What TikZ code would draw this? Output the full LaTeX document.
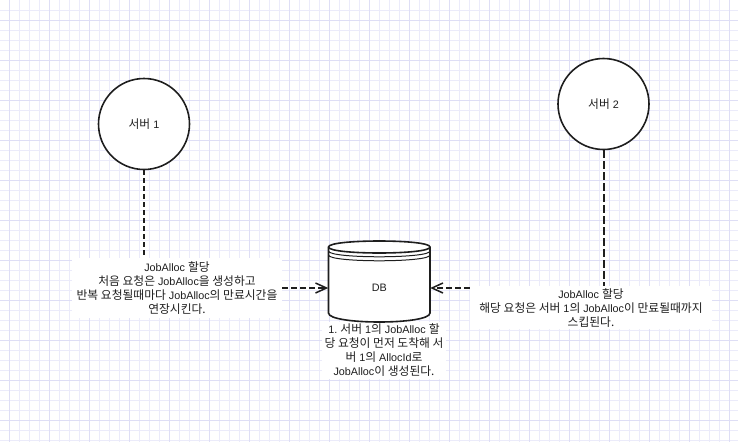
\documentclass[tikz,border=0pt]{standalone}
\usepackage{fontspec}
\setmainfont{Liberation Sans}
\newfontfamily\kr{Noto Sans CJK KR}[Scale=1.09]
\usetikzlibrary{arrows.meta,calc}
\newcommand\K[1]{{\kr #1}}
\definecolor{gridminor}{HTML}{EBEBFA}
\definecolor{gridmajor}{HTML}{DEDEF5}
\definecolor{ink}{HTML}{1E1E1E}
\frenchspacing
\tikzset{
  server/.style={circle, draw=ink, line width=1.6pt, minimum size=91pt, inner sep=0pt, fill=white, text=ink},
  note/.style={fill=white, align=center, inner sep=0pt, text=ink},
  dbshape/.style={draw=ink, line width=1.6pt, fill=white},
  dbline/.style={draw=ink, line width=1pt},
  vlink1/.style={draw=ink, line width=1.1pt, dash pattern=on 5pt off 3pt},
  vlink2/.style={draw=ink, line width=2pt, dash pattern=on 8pt off 3pt},
  arrowlink/.style={draw=ink, line width=1.5pt, dash pattern=on 6pt off 3pt, -{Straight Barb[length=11pt,width=10pt]}},
}
\begin{document}
\begin{tikzpicture}[x=1pt,y=-1pt,font=\fontsize{10.8}{14}\selectfont]
\useasboundingbox (0,0) rectangle (738,442);
\fill[white] (0,0) rectangle (738,442);
\foreach \i in {0,...,72} {\draw[gridminor, line width=0.8pt] ({9.5+10*\i},0) -- ({9.5+10*\i},442);}
\foreach \i in {0,...,43} {\draw[gridminor, line width=0.8pt] (0,{10+10*\i}) -- (738,{10+10*\i});}
\foreach \i in {0,...,18} {\draw[gridmajor, line width=0.8pt] ({9.5+40*\i},0) -- ({9.5+40*\i},442);}
\foreach \i in {0,...,10} {\draw[gridmajor, line width=0.8pt] (0,{20+40*\i}) -- (738,{20+40*\i});}

% servers
\node[server] (s1) at (144,124) {\K{서버} 1};
\node[server] (s2) at (603.5,104) {\K{서버} 2};

% labels
\node[note, minimum width=210pt, minimum height=60pt] (lab1) at (177,288)
  {JobAlloc \K{할당}\\ \K{처음 요청은} JobAlloc\K{을 생성하고}\\ \K{반복 요청될때마다} JobAlloc\K{의 만료시간을}\\ \K{연장시킨다.}};
\node[note, minimum width=242pt, minimum height=43pt] (lab2) at (591,307.6)
  {JobAlloc \K{할당}\\ \K{해당 요청은 서버} 1\K{의} JobAlloc\K{이 만료될때까지}\\ \K{스킵된다.}};
\node[note, minimum width=124pt, minimum height=57pt] (lab3) at (384,350.5)
  {1. \K{서버} 1\K{의} JobAlloc \K{할}\\ \K{당 요청이 먼저 도착해 서}\\ \K{버} 1\K{의} AllocId\K{로}\\ JobAlloc\K{이 생성된다.}};

% database cylinder
\filldraw[dbshape] (328.5,247) .. controls (328.5,239) and (430,239) .. (430,247)
  -- (430,313) .. controls (430,325) and (328.5,325) .. (328.5,313) -- cycle;
\draw[dbshape, fill=none] (328.5,247) .. controls (328.5,255) and (430,255) .. (430,247);
\draw[dbline] (328.5,251) .. controls (328.5,258.7) and (430,258.7) .. (430,251);
\draw[dbline] (328.5,255) .. controls (328.5,262.7) and (430,262.7) .. (430,255);
\node[minimum width=101.5pt, minimum height=81pt, inner sep=0pt] (db) at (379.25,281.5) {};
\node[text=ink, inner sep=0pt] (dbt) at (379.25,288) {DB};

% connectors
\draw[vlink1] (s1.south) -- (s1.south |- lab1.north);
\draw[vlink2] (s2.south) -- (s2.south |- lab2.north);
\draw[arrowlink] (lab1.east) -- (db.west |- dbt.center);
\draw[arrowlink] (lab2.west |- dbt.center) -- (db.east |- dbt.center);
\end{tikzpicture}
\end{document}
